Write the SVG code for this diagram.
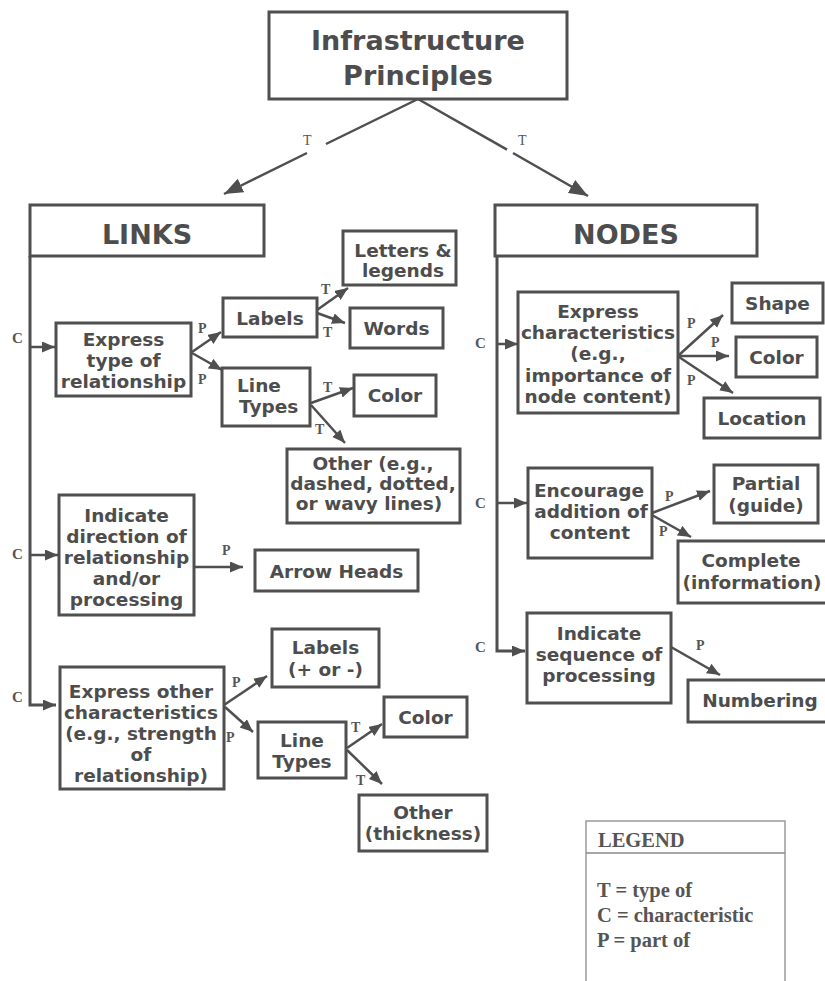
<svg xmlns="http://www.w3.org/2000/svg" width="825" height="981" viewBox="0 0 825 981">
<defs>
<style>
.box{fill:#fff;stroke:#4f4f4f;stroke-width:3}
.t{font-family:"DejaVu Sans",Verdana,sans-serif;font-weight:bold;font-size:18.5px;fill:#4d4d4d;text-anchor:middle}
.big{font-size:27px}
.lbl{font-family:"Liberation Serif","Times New Roman",serif;font-weight:bold;font-size:14px;fill:#555}
.cl{font-size:15px}
.tl{font-family:"Liberation Serif","Times New Roman",serif;font-size:14px;fill:#555}
.c{fill:none;stroke:#4f4f4f;stroke-width:2.5}
.trunk{fill:none;stroke:#4f4f4f;stroke-width:3}
.leg{font-family:"Liberation Serif","Times New Roman",serif;font-weight:bold;font-size:20.5px;fill:#555}
</style>
<marker id="ah" markerUnits="userSpaceOnUse" markerWidth="14" markerHeight="12" refX="13" refY="5.5" orient="auto">
<path d="M0,0 L13,5.5 L0,11 z" fill="#4f4f4f"/>
</marker>
<marker id="ahb" markerUnits="userSpaceOnUse" markerWidth="20" markerHeight="16" refX="19" refY="7.5" orient="auto">
<path d="M0,0 L19,7.5 L0,15 z" fill="#4f4f4f"/>
</marker>
</defs>
<rect width="825" height="981" fill="#fff"/>

<g id="connectors">
<path class="c" d="M418,99 L326,144"/>
<path class="c" d="M307,153 L224,194" marker-end="url(#ahb)"/>
<path class="c" d="M418,99 L507,149.6"/>
<path class="c" d="M513,153 L588,196" marker-end="url(#ahb)"/>
<text class="tl" x="303" y="145">T</text>
<text class="tl" x="518" y="145">T</text>

<path class="trunk" d="M30,256 V705 H56" marker-end="url(#ah)"/>
<path class="c" d="M30,347 H55" marker-end="url(#ah)"/>
<path class="c" d="M30,555 H58" marker-end="url(#ah)"/>
<path class="trunk" d="M497,256 V651 H525" marker-end="url(#ah)"/>
<path class="c" d="M497,344 H518" marker-end="url(#ah)"/>
<path class="c" d="M497,503 H527" marker-end="url(#ah)"/>
<text class="lbl cl" x="12" y="343">C</text>
<text class="lbl cl" x="12" y="559">C</text>
<text class="lbl cl" x="12" y="702">C</text>
<text class="lbl cl" x="475" y="348">C</text>
<text class="lbl cl" x="475" y="508">C</text>
<text class="lbl cl" x="475" y="652">C</text>

<path class="c" d="M192,352 L221,332" marker-end="url(#ah)"/>
<path class="c" d="M192,353 L222,370" marker-end="url(#ah)"/>
<text class="lbl" x="198" y="333">P</text>
<text class="lbl" x="198" y="384">P</text>
<path class="c" d="M317,310 L348,288" marker-end="url(#ah)"/>
<path class="c" d="M317,313 L345,323" marker-end="url(#ah)"/>
<text class="lbl" x="321" y="294">T</text>
<text class="lbl" x="323" y="337">T</text>
<path class="c" d="M311,403 L353,388" marker-end="url(#ah)"/>
<path class="c" d="M311,405 L345,443" marker-end="url(#ah)"/>
<text class="lbl" x="323" y="392">T</text>
<text class="lbl" x="315" y="434">T</text>
<path class="c" d="M194,567 H243" marker-end="url(#ah)"/>
<text class="lbl" x="222" y="555">P</text>
<path class="c" d="M224,705 L267,676" marker-end="url(#ah)"/>
<path class="c" d="M225,707 L253,732" marker-end="url(#ah)"/>
<text class="lbl" x="232" y="687">P</text>
<text class="lbl" x="226" y="742">P</text>
<path class="c" d="M347,748 L382,724" marker-end="url(#ah)"/>
<path class="c" d="M347,750 L382,784" marker-end="url(#ah)"/>
<text class="lbl" x="351" y="732">T</text>
<text class="lbl" x="356" y="785">T</text>

<path class="c" d="M679,355 L723,315" marker-end="url(#ah)"/>
<path class="c" d="M679,356 L729,356" marker-end="url(#ah)"/>
<path class="c" d="M679,357 L733,393" marker-end="url(#ah)"/>
<text class="lbl" x="687" y="328">P</text>
<text class="lbl" x="711" y="347">P</text>
<text class="lbl" x="687" y="385">P</text>
<path class="c" d="M652,513 L710,491" marker-end="url(#ah)"/>
<path class="c" d="M652,515 L691,537" marker-end="url(#ah)"/>
<text class="lbl" x="665" y="501">P</text>
<text class="lbl" x="659" y="536">P</text>
<path class="c" d="M671,647 L720,675" marker-end="url(#ah)"/>
<text class="lbl" x="696" y="650">P</text>
</g>

<g id="infrastructure-principles">
<rect class="box" x="269" y="12" width="298" height="87"/>
<text class="t big" x="418" y="50">Infrastructure</text>
<text class="t big" x="418" y="85">Principles</text>
</g>
<g id="links">
<rect class="box" x="30" y="205" width="234" height="51"/>
<text class="t big" x="147" y="244">LINKS</text>
</g>
<g id="nodes">
<rect class="box" x="495" y="205" width="262" height="51"/>
<text class="t big" x="626" y="244">NODES</text>
</g>

<g id="express-type">
<rect class="box" x="56" y="323" width="135" height="73"/>
<text class="t" x="123.5" y="346">Express</text>
<text class="t" x="123.5" y="367">type of</text>
<text class="t" x="123.5" y="388">relationship</text>
</g>
<g id="labels-1">
<rect class="box" x="223" y="298" width="94" height="39"/>
<text class="t" x="270" y="325">Labels</text>
</g>
<g id="line-types-1">
<rect class="box" x="222" y="368" width="88" height="58"/>
<text class="t" x="237" y="392" style="text-anchor:start">Line</text>
<text class="t" x="239" y="413" style="text-anchor:start">Types</text>
</g>
<g id="letters-legends">
<rect class="box" x="343" y="231" width="113" height="54"/>
<text class="t" x="403" y="257">Letters &amp;</text>
<text class="t" x="403" y="277">legends</text>
</g>
<g id="words">
<rect class="box" x="350" y="308" width="93" height="40"/>
<text class="t" x="396.5" y="335">Words</text>
</g>
<g id="color-1">
<rect class="box" x="354" y="375" width="82" height="41"/>
<text class="t" x="395" y="402">Color</text>
</g>
<g id="other-1">
<rect class="box" x="287" y="449" width="173" height="74"/>
<text class="t" x="373" y="470">Other (e.g.,</text>
<text class="t" x="373" y="490">dashed, dotted,</text>
<text class="t" x="369" y="510">or wavy lines)</text>
</g>
<g id="indicate-direction">
<rect class="box" x="59" y="495" width="135" height="120"/>
<text class="t" x="126.5" y="522">Indicate</text>
<text class="t" x="126.5" y="543">direction of</text>
<text class="t" x="126.5" y="564">relationship</text>
<text class="t" x="126.5" y="585">and/or</text>
<text class="t" x="126.5" y="606">processing</text>
</g>
<g id="arrow-heads">
<rect class="box" x="255" y="550" width="163" height="41"/>
<text class="t" x="336.5" y="578">Arrow Heads</text>
</g>
<g id="labels-2">
<rect class="box" x="272" y="629" width="107" height="58"/>
<text class="t" x="325.5" y="654">Labels</text>
<text class="t" x="325.5" y="676">(+ or -)</text>
</g>
<g id="express-other">
<rect class="box" x="60" y="667" width="164" height="122"/>
<text class="t" x="141" y="698">Express other</text>
<text class="t" x="141" y="719">characteristics</text>
<text class="t" x="141" y="740">(e.g., strength</text>
<text class="t" x="141" y="761">of</text>
<text class="t" x="141" y="782">relationship)</text>
</g>
<g id="line-types-2">
<rect class="box" x="258" y="722" width="88" height="56"/>
<text class="t" x="302" y="747">Line</text>
<text class="t" x="302" y="768">Types</text>
</g>
<g id="color-2">
<rect class="box" x="384" y="697" width="83" height="40"/>
<text class="t" x="425.5" y="724">Color</text>
</g>
<g id="other-2">
<rect class="box" x="359" y="795" width="128" height="56"/>
<text class="t" x="423" y="819">Other</text>
<text class="t" x="423" y="840">(thickness)</text>
</g>

<g id="express-characteristics">
<rect class="box" x="518" y="292" width="160" height="121"/>
<text class="t" x="598" y="318">Express</text>
<text class="t" x="598" y="339">characteristics</text>
<text class="t" x="598" y="360">(e.g.,</text>
<text class="t" x="598" y="382">importance of</text>
<text class="t" x="598" y="403">node content)</text>
</g>
<g id="shape">
<rect class="box" x="732" y="283" width="91" height="40"/>
<text class="t" x="777.5" y="310">Shape</text>
</g>
<g id="color-3">
<rect class="box" x="736" y="337" width="81" height="40"/>
<text class="t" x="776.5" y="364">Color</text>
</g>
<g id="location">
<rect class="box" x="704" y="398" width="116" height="40"/>
<text class="t" x="762" y="425">Location</text>
</g>
<g id="encourage-addition">
<rect class="box" x="528" y="468" width="124" height="90"/>
<text class="t" x="589" y="497">Encourage</text>
<text class="t" x="591" y="518">addition of</text>
<text class="t" x="590" y="539">content</text>
</g>
<g id="partial">
<rect class="box" x="714" y="465" width="104" height="58"/>
<text class="t" x="766" y="490">Partial</text>
<text class="t" x="766" y="512">(guide)</text>
</g>
<g id="complete">
<rect class="box" x="678" y="541" width="150" height="62"/>
<text class="t" x="751" y="567">Complete</text>
<text class="t" x="752" y="589">(information)</text>
</g>
<g id="indicate-sequence">
<rect class="box" x="527" y="613" width="144" height="90"/>
<text class="t" x="599" y="640">Indicate</text>
<text class="t" x="599" y="661">sequence of</text>
<text class="t" x="599" y="682">processing</text>
</g>
<g id="numbering">
<rect class="box" x="688" y="680" width="145" height="42"/>
<text class="t" x="760" y="707">Numbering</text>
</g>

<g id="legend">
<rect x="586" y="821" width="199" height="180" fill="none" stroke="#9a9a9a" stroke-width="1.5"/>
<line x1="586" y1="853" x2="785" y2="853" stroke="#8a8a8a" stroke-width="1.5"/>
<text class="leg" x="598" y="847">LEGEND</text>
<text class="leg" x="597" y="897">T = type of</text>
<text class="leg" x="597" y="922">C = characteristic</text>
<text class="leg" x="597" y="947">P = part of</text>
</g>
</svg>
